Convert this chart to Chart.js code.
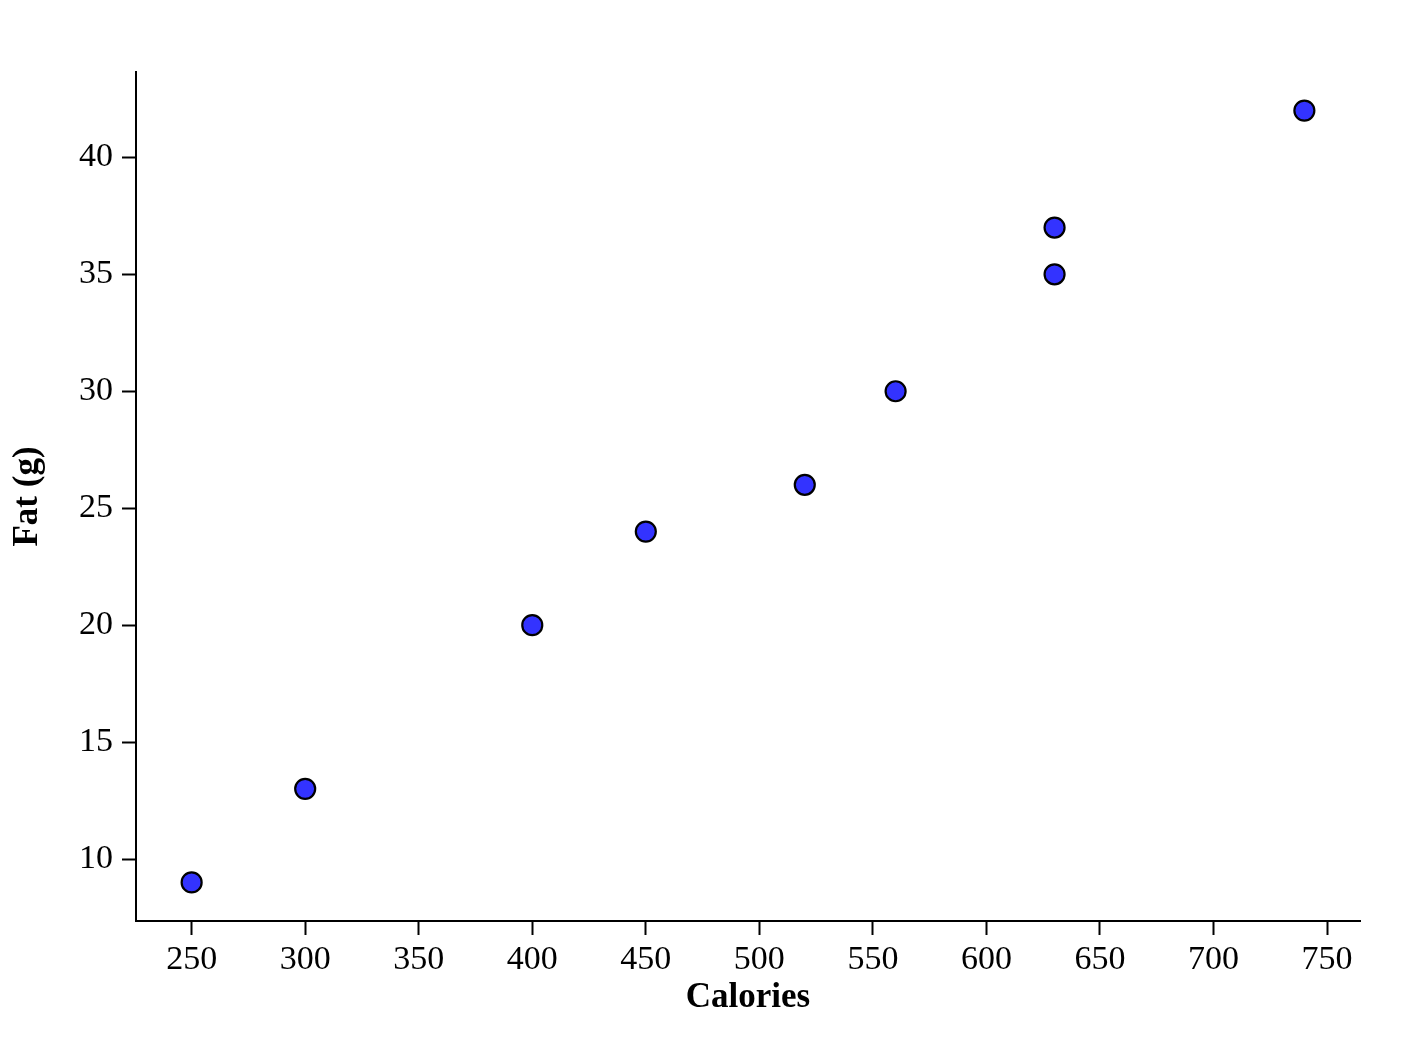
<!DOCTYPE html>
<html>
<head>
<meta charset="utf-8">
<script src="https://cdn.jsdelivr.net/npm/chart.js@4"></script>
<style>
	html, body { margin: 0; padding: 0; background: #fff; }
	#wrap { width: 1414px; height: 1050px; }
</style>
</head>
<body>
<div id="wrap"><canvas id="myChart" width="1414" height="1050"></canvas></div>
<script>
// 데이터 (칼로리 / 지방)
const calories = [250, 300, 400, 450, 520, 560, 630, 630, 740];
const fat = [9, 13, 20, 24, 26, 30, 37, 35, 42];

// 축 눈금
const xTicks = [250, 300, 350, 400, 450, 500, 550, 600, 650, 700, 750];
const yTicks = [10, 15, 20, 25, 30, 35, 40];

const xTitle = 'Calories';
const yTitle = 'Fat (g)';

// 5% 여백을 둔 축 범위
const xPad = (Math.max(...calories) - Math.min(...calories)) * 0.05;
const yPad = (Math.max(...fat) - Math.min(...fat)) * 0.05;

let points = [];
for (let i = 0; i < calories.length; i++) {
	points.push({ x: calories[i], y: fat[i] });
}

const tickFont = { family: "'Liberation Serif', 'Times New Roman', serif", size: 34 };
const titleFont = { family: "'Liberation Serif', 'Times New Roman', serif", size: 35, weight: 'bold' };

const ctx = document.getElementById('myChart');

new Chart(ctx, {
	type: 'scatter',
	data: {
		datasets: [{
			data: points,
			pointRadius: 10,
			pointHoverRadius: 10,
			pointBorderWidth: 2.2,
			pointBackgroundColor: 'rgb(51,51,255)',
			pointBorderColor: '#000'
		}]
	},
	options: {
		responsive: false,
		animation: false,
		layout: { padding: { top: 72, right: 54, left: 0, bottom: 0 } },
		plugins: {
			legend: { display: false },
			tooltip: { enabled: false }
		},
		scales: {
			x: {
				type: 'linear',
				min: Math.min(...calories) - xPad,
				max: Math.max(...calories) + xPad,
				afterBuildTicks: (s) => { s.ticks = xTicks.map(v => ({ value: v })); },
				afterFit: (s) => { s.height = 129; },
				border: { display: true, color: '#000', width: 2 },
				grid: { drawOnChartArea: false, tickLength: 14, tickColor: '#000', tickWidth: 2 },
				ticks: { color: '#000', font: tickFont, padding: 5, maxRotation: 0, autoSkip: false },
				title: { display: true, text: xTitle, color: '#000', font: titleFont, padding: { top: 0, bottom: 31 } }
			},
			y: {
				type: 'linear',
				min: Math.min(...fat) - yPad,
				max: Math.max(...fat) + yPad,
				afterBuildTicks: (s) => { s.ticks = yTicks.map(v => ({ value: v })); },
				afterFit: (s) => { s.width = 136; },
				border: { display: true, color: '#000', width: 2 },
				grid: { drawOnChartArea: false, tickLength: 14, tickColor: '#000', tickWidth: 2 },
				ticks: { color: '#000', font: tickFont, padding: 9, autoSkip: false },
				title: { display: true, text: yTitle, color: '#000', font: titleFont, padding: { top: 7, bottom: 0 } }
			}
		}
	}
});
</script>
</body>
</html>
